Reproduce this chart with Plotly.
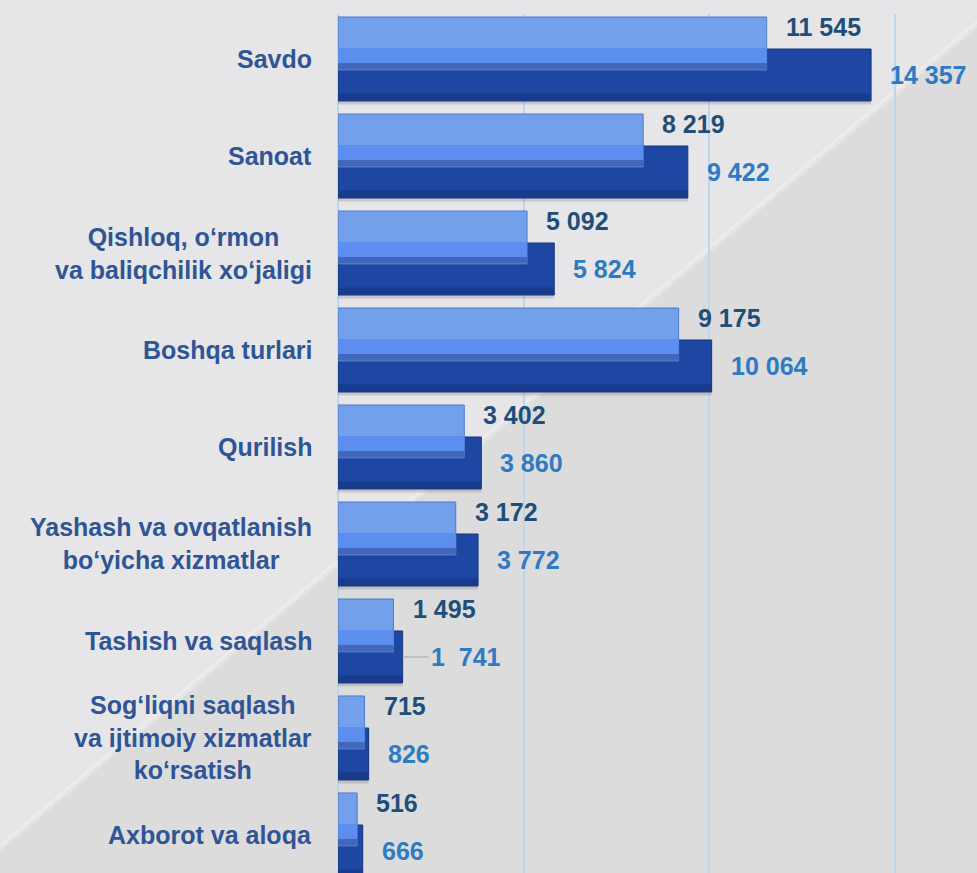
import plotly.graph_objects as go

categories = [
    "Savdo",
    "Sanoat",
    "Qishloq, o‘rmon<br>va baliqchilik xo‘jaligi",
    "Boshqa turlari",
    "Qurilish",
    "Yashash va ovqatlanish<br>bo‘yicha xizmatlar",
    "Tashish va saqlash",
    "Sog‘liqni saqlash<br>va ijtimoiy xizmatlar<br>ko‘rsatish",
    "Axborot va aloqa",
]
prev_values = [11545, 8219, 5092, 9175, 3402, 3172, 1495, 715, 516]
curr_values = [14357, 9422, 5824, 10064, 3860, 3772, 1741, 826, 666]
grid_ticks = [0, 5000, 10000, 15000]

FONT = "Liberation Sans, Arial, sans-serif"
LABEL_BLUE = "#2f5597"
PREV_TEXT = "#1f4e79"
CURR_TEXT = "#2e7bc4"


def fmt(v):
    return f"{v:,}".replace(",", " ")


idx = list(range(len(categories)))

fig = go.Figure()


def add_band(values, offset, width, color, line=None):
    # each bar is built from a few stacked bands to fake the bevelled look
    fig.add_trace(go.Bar(
        x=values, y=idx, orientation="h", offset=offset, width=width,
        marker=dict(color=color, line=line or dict(width=0)),
        hoverinfo="x", showlegend=False,
    ))


# soft shadow under the dark bars
add_band(curr_values, 0.40, 0.07, "rgba(90,90,90,0.22)")
# current year (dark) first, so the lighter bar sits on top
add_band(curr_values, -0.103, 0.536, "#1e47a4", dict(color="#15347c", width=1))
add_band(curr_values, 0.355, 0.072, "#183b8c")
# previous year (light)
add_band(prev_values, -0.433, 0.546, "#72a0ea", dict(color="#4f7bcc", width=1))
add_band(prev_values, -0.113, 0.154, "#5b8eef")
add_band(prev_values, 0.041, 0.068, "#4266b8")

annotations = []
for i, cat in enumerate(categories):
    annotations.append(dict(
        x=0, xref="paper", y=i, yref="y", text=cat, showarrow=False,
        xanchor="right", xshift=-24, align="center",
        font=dict(family=FONT, size=25, color=LABEL_BLUE, weight="bold"),
    ))
    annotations.append(dict(
        x=prev_values[i], y=i, text=fmt(prev_values[i]), showarrow=False,
        xanchor="left", xshift=17, yshift=32,
        font=dict(family=FONT, size=25, color=PREV_TEXT, weight="bold"),
    ))
    if cat == "Tashish va saqlash":
        # small leader line like in the original
        annotations.append(dict(
            x=curr_values[i], y=i, text=fmt(curr_values[i]).replace(" ", "\u00a0\u00a0"),
            showarrow=True, arrowhead=0, arrowwidth=1.2, arrowcolor="#a6a6a6",
            ax=26, ay=0, xanchor="left", yshift=-16,
            font=dict(family=FONT, size=25, color=CURR_TEXT, weight="bold"),
        ))
    else:
        annotations.append(dict(
            x=curr_values[i], y=i, text=fmt(curr_values[i]), showarrow=False,
            xanchor="left", xshift=17, yshift=-16,
            font=dict(family=FONT, size=25, color=CURR_TEXT, weight="bold"),
        ))

# background: two grey tones split along a diagonal, with a faint light streak
shapes = [
    dict(type="path", xref="paper", yref="paper", layer="below",
         path="M 1.044 1.0163 L 1.1 1.0163 L 1.1 0 L -0.576 0 Z",
         fillcolor="#dcdcdd", line=dict(width=0)),
    dict(type="line", xref="paper", yref="paper", layer="below",
         x0=1.044, y0=1.0163, x1=-0.576, y1=0,
         line=dict(color="rgba(255,255,255,0.25)", width=6)),
]

fig.update_layout(
    width=977, height=873,
    margin=dict(l=338, r=0, t=14, b=0),
    paper_bgcolor="#e6e6e8",
    plot_bgcolor="rgba(0,0,0,0)",
    barmode="overlay",
    showlegend=False,
    annotations=annotations,
    shapes=shapes,
    xaxis=dict(
        range=[0, 17210], tickvals=grid_ticks, showticklabels=False,
        showgrid=True, gridcolor="#bcd6ee", gridwidth=2,
        zeroline=True, zerolinecolor="#bcd6ee", zerolinewidth=2,
        fixedrange=True,
    ),
    yaxis=dict(
        range=[8.392, -0.464], showticklabels=False, showgrid=False,
        zeroline=False, fixedrange=True,
    ),
)

fig.write_html("out.html", config={"displayModeBar": False},
               post_script="document.body.style.margin='0';")
